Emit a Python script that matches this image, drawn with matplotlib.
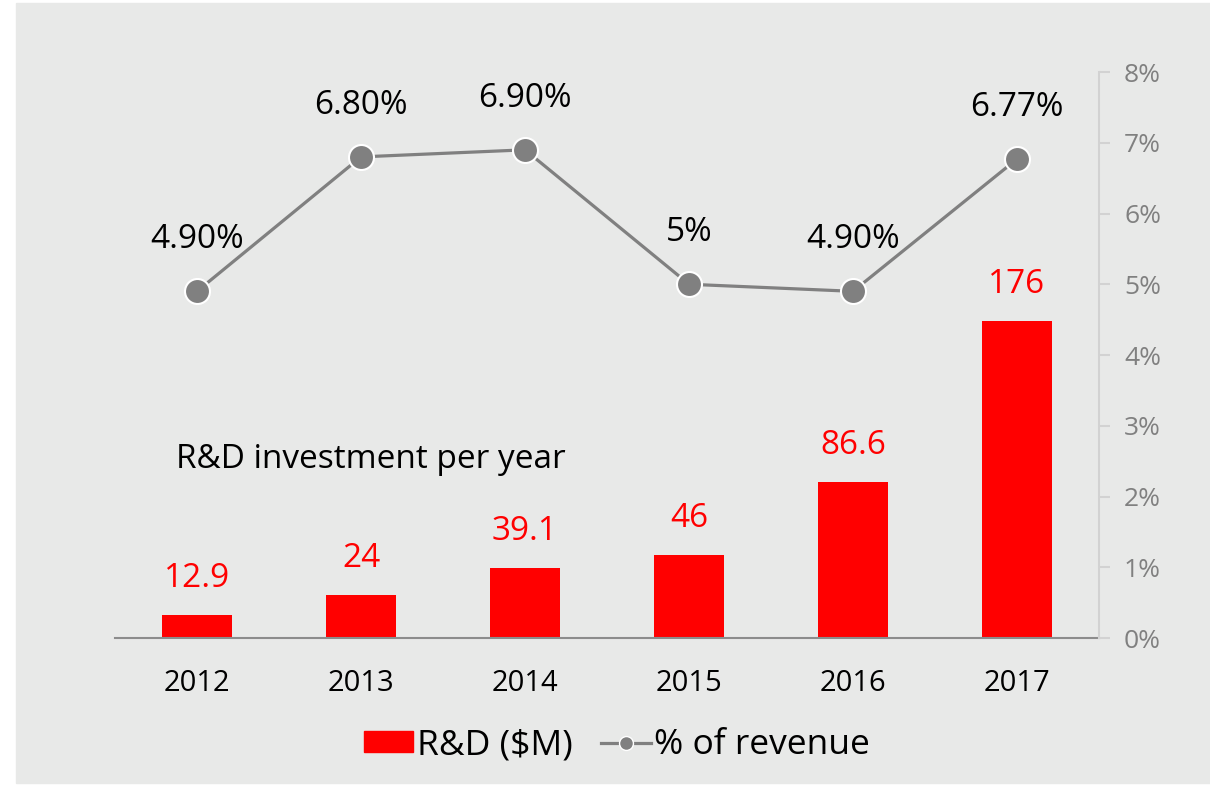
import matplotlib.pyplot as plt
from matplotlib.patches import Rectangle, Patch
from matplotlib.lines import Line2D
from matplotlib.ticker import PercentFormatter

plt.rcParams['font.family'] = ['Open Sans', 'DejaVu Sans']

years = ["2012", "2013", "2014", "2015", "2016", "2017"]
rd_spend = [12.9, 24, 39.1, 46, 86.6, 176]
pct_revenue = [4.90, 6.80, 6.90, 5.0, 4.90, 6.77]
pct_labels = ["4.90%", "6.80%", "6.90%", "5%", "4.90%", "6.77%"]

RED = "#ff0000"
GREY = "#808080"
BG = "#e8e9e8"

fig = plt.figure(figsize=(12.1, 7.85), dpi=100, facecolor="white")
fig.add_artist(Rectangle((16 / 1210, 2 / 785), 1194 / 1210, 780 / 785,
                         transform=fig.transFigure, color=BG, zorder=-10))

ax = fig.add_axes([115 / 1210, 147 / 785, 984 / 1210, 566 / 785])
ax.set_facecolor("none")
x = list(range(len(years)))

ax.bar(x, rd_spend, width=0.43, color=RED, zorder=2)
for xi, v in zip(x, rd_spend):
    ax.annotate(f"{v:g}", (xi, v), xytext=(0, 26), textcoords="offset points",
                ha="center", va="center", color=RED, fontsize=24)

ax.set_xlim(-0.5, 5.5)
ax.set_ylim(0, 314)
ax.set_yticks([])
for s in ["top", "left", "right"]:
    ax.spines[s].set_visible(False)
ax.spines["bottom"].set_color("#8c8c8c")
ax.spines["bottom"].set_linewidth(1.5)
ax.set_xticks(x)
ax.set_xticklabels(years, fontsize=21)
ax.tick_params(axis="x", length=0, pad=22)

ax.text((176 - 115) / 984, (785 - 460 - 147) / 566, "R&D investment per year",
        transform=ax.transAxes, fontsize=24, va="center", ha="left")

ax2 = ax.twinx()
ax2.plot(x, pct_revenue, color=GREY, linewidth=2.3, marker="o", markersize=18,
         markerfacecolor=GREY, markeredgecolor="white", markeredgewidth=1.5, zorder=3)
for xi, v, lab in zip(x, pct_revenue, pct_labels):
    ax2.annotate(lab, (xi, v), xytext=(0, 37), textcoords="offset points",
                 ha="center", va="center", color="black", fontsize=24)

ax2.set_ylim(0, 8)
ax2.set_yticks(range(0, 9))
ax2.yaxis.set_major_formatter(PercentFormatter(decimals=0))
for s in ["top", "left", "bottom"]:
    ax2.spines[s].set_visible(False)
ax2.spines["right"].set_color("#d2d2d2")
ax2.spines["right"].set_linewidth(1.5)
ax2.tick_params(axis="y", colors="#d2d2d2", labelcolor=GREY, labelsize=19,
                length=8, width=1.5, pad=10)

handles = [Patch(color=RED),
           Line2D([], [], color=GREY, linewidth=2.3, marker="o", markersize=10,
                  markerfacecolor=GREY, markeredgecolor="white", markeredgewidth=1)]
fig.legend(handles, ["R&D ($M)", "% of revenue"], loc="center",
           bbox_to_anchor=(617 / 1210, 40 / 785), ncol=2, frameon=False,
           fontsize=25.5, handlelength=1.4, handleheight=0.5, handletextpad=0.1,
           columnspacing=0.8)

fig.savefig("out.png", dpi=100, facecolor="white")
